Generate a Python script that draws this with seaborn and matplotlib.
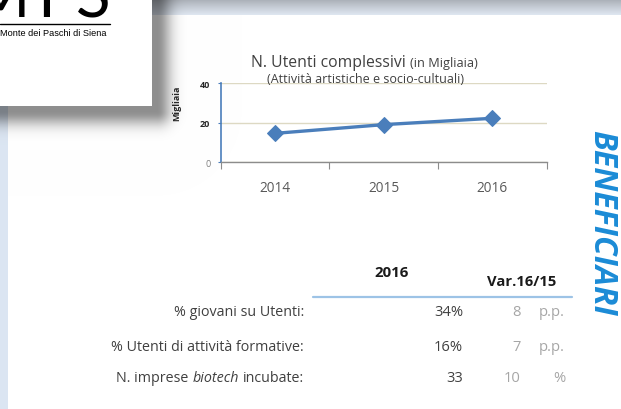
import numpy as np
import pandas as pd
import matplotlib
matplotlib.use("Agg")
import matplotlib.pyplot as plt
from matplotlib.lines import Line2D
import seaborn as sns

# --- data -------------------------------------------------------------
anni = ["2014", "2015", "2016"]
utenti = [14.6, 19.0, 22.2]          # migliaia
y_ticks = [0, 20, 40]

righe = ["% giovani su Utenti:", "% Utenti di attività formative:", None]
valori_2016 = ["34%", "16%", "33"]
variazioni = ["8", "7", "10"]
unita = ["p.p.", "p.p.", "%"]

# --- style ------------------------------------------------------------
sns.set_theme(style="white")
plt.rcParams["font.family"] = ["Open Sans", "DejaVu Sans"]

W, H = 621, 410
fig = plt.figure(figsize=(W / 100, H / 100), dpi=100)


def fx(x):
    return x / W


def fy(y):
    return 1 - y / H


# --- slide background: header band, side strip, logo card with shadow --
img = np.ones((H, W, 3))
top_c = np.array([0.66, 0.68, 0.71])
bot_c = np.array([0.87, 0.90, 0.94])
for r in range(16):
    t = (r / 15) ** 0.9
    img[r, :] = top_c * (1 - t) + bot_c * t
img[:, :8] = [0.86, 0.90, 0.95]
yy, xx = np.mgrid[0:H, 0:W] + 0.5
d = np.hypot(np.maximum(xx - 157, 0), np.maximum(yy - 112, 0))
shade = 0.44 * np.exp(-(d / 14) ** 2)
img *= (1 - shade[..., None])
img[:107, :152] = 1.0

bg = fig.add_axes([0, 0, 1, 1])
bg.imshow(img, extent=[0, W, H, 0], aspect="auto", interpolation="bilinear")
bg.set_axis_off()

# logo
for ch, x, ha in [("M", 30, "right"), ("P", 37, "left"), ("S", 111, "right")]:
    fig.text(fx(x), fy(17), ch, ha=ha, va="baseline", fontsize=46,
             family=["Lato", "DejaVu Sans"], weight="normal", color="black")
fig.add_artist(Line2D([fx(0), fx(110)], [fy(25), fy(25)], color="black", lw=1.0))
fig.text(fx(0), fy(34), "Monte dei Paschi di Siena", ha="left", va="center",
         fontsize=6.6, family=["Liberation Sans Narrow", "Liberation Sans"],
         color="black")

# --- line chart ---------------------------------------------------------
blue = "#4a7ebb"
ax = fig.add_axes([fx(220.7), fy(163.3), (546.7 - 220.7) / W, (163.3 - 84) / H])
ax.patch.set_alpha(0)
df = pd.DataFrame({"anno": anni, "utenti": utenti})
sns.lineplot(data=df, x="anno", y="utenti", ax=ax, color=blue, lw=2.4,
             marker="D", markersize=8, markeredgecolor=blue, zorder=5)
ax.set_xlim(-0.5, len(anni) - 0.5)
ax.set_ylim(0, 40)
ax.set_xticks(range(len(anni)))
ax.set_xticklabels(anni)
ax.set_xticks(np.arange(-0.5, len(anni), 1.0), minor=True)
ax.tick_params(axis="x", which="major", length=0, pad=13, labelsize=9.8,
               labelcolor="#595959")
ax.tick_params(axis="x", which="minor", length=5, width=0.8, color="#8c8c8c",
               direction="out", bottom=True)
ax.set_yticks(y_ticks)
ax.set_yticklabels([str(v) for v in y_ticks])
ax.tick_params(axis="y", length=2.5, width=0.8, color=blue, labelsize=6.5,
               pad=5, left=True)
for lab, v in zip(ax.get_yticklabels(), y_ticks):
    if v == 0:
        lab.set_color("#7f7f7f")
    else:
        lab.set_color("#262626")
        lab.set_fontweight("bold")
ax.grid(axis="y", color="#ddd9c3", lw=1.0)
ax.set_axisbelow(True)
for s in ("top", "right"):
    ax.spines[s].set_visible(False)
ax.spines["left"].set_color(blue)
ax.spines["left"].set_linewidth(1.2)
ax.spines["bottom"].set_color("#8c8c8c")
ax.spines["bottom"].set_linewidth(1.0)
ax.set_xlabel("")
ax.set_ylabel("Migliaia", fontsize=6.5, weight="bold", color="#262626")
ax.yaxis.set_label_coords(-0.122, 0.76)

fig.text(fx(406), fy(63), "N. Utenti complessivi", ha="right", va="center",
         fontsize=11.3, color="#404040")
fig.text(fx(410), fy(64), "(in Migliaia)", ha="left", va="center",
         fontsize=9.2, color="#404040")
fig.text(fx(366), fy(80), "(Attività artistiche e socio-cultuali)", ha="center",
         va="center", fontsize=9.0, color="#404040")

# --- side title -----------------------------------------------------------
fig.text(fx(602), fy(223), "BENEFICIARI", rotation=-90, ha="center", va="center",
         fontsize=23, weight="bold", style="italic", color="#1b8bd6")

# --- summary table ----------------------------------------------------------
fig.text(fx(392), fy(273), "2016", ha="center", va="center", fontsize=10.8,
         weight="bold", color="#1a1a1a")
fig.text(fx(522), fy(282), "Var.16/15", ha="center", va="center", fontsize=10.6,
         weight="bold", color="#1a1a1a")
fig.add_artist(Line2D([fx(313), fx(572)], [fy(298), fy(298)], color="#9dc3e6",
                      lw=1.6))

row_y = [313, 348, 379]
lab_c = "#404040"
fs = 10.3
renderer = fig.canvas.get_renderer()
for i, y in enumerate(row_y):
    if righe[i] is not None:
        fig.text(fx(304), fy(y), righe[i], ha="right", va="center", fontsize=fs,
                 color=lab_c)
    else:
        x = 304
        for txt, st in [("incubate:", "normal"), ("biotech", "italic"),
                        ("N. imprese", "normal")]:
            t = fig.text(fx(x), fy(y), txt, ha="right", va="center", fontsize=fs,
                         style=st, color=lab_c)
            x -= t.get_window_extent(renderer).width + 3.8
    fig.text(fx(463), fy(y), valori_2016[i], ha="right", va="center",
             fontsize=10.6, color=lab_c)
    fig.text(fx(521), fy(y), variazioni[i], ha="right", va="center",
             fontsize=10.6, color="#a6a6a6")
    fig.text(fx(565), fy(y), unita[i], ha="right", va="center",
             fontsize=10.6, color="#a6a6a6")

fig.savefig("out.png", dpi=100)
